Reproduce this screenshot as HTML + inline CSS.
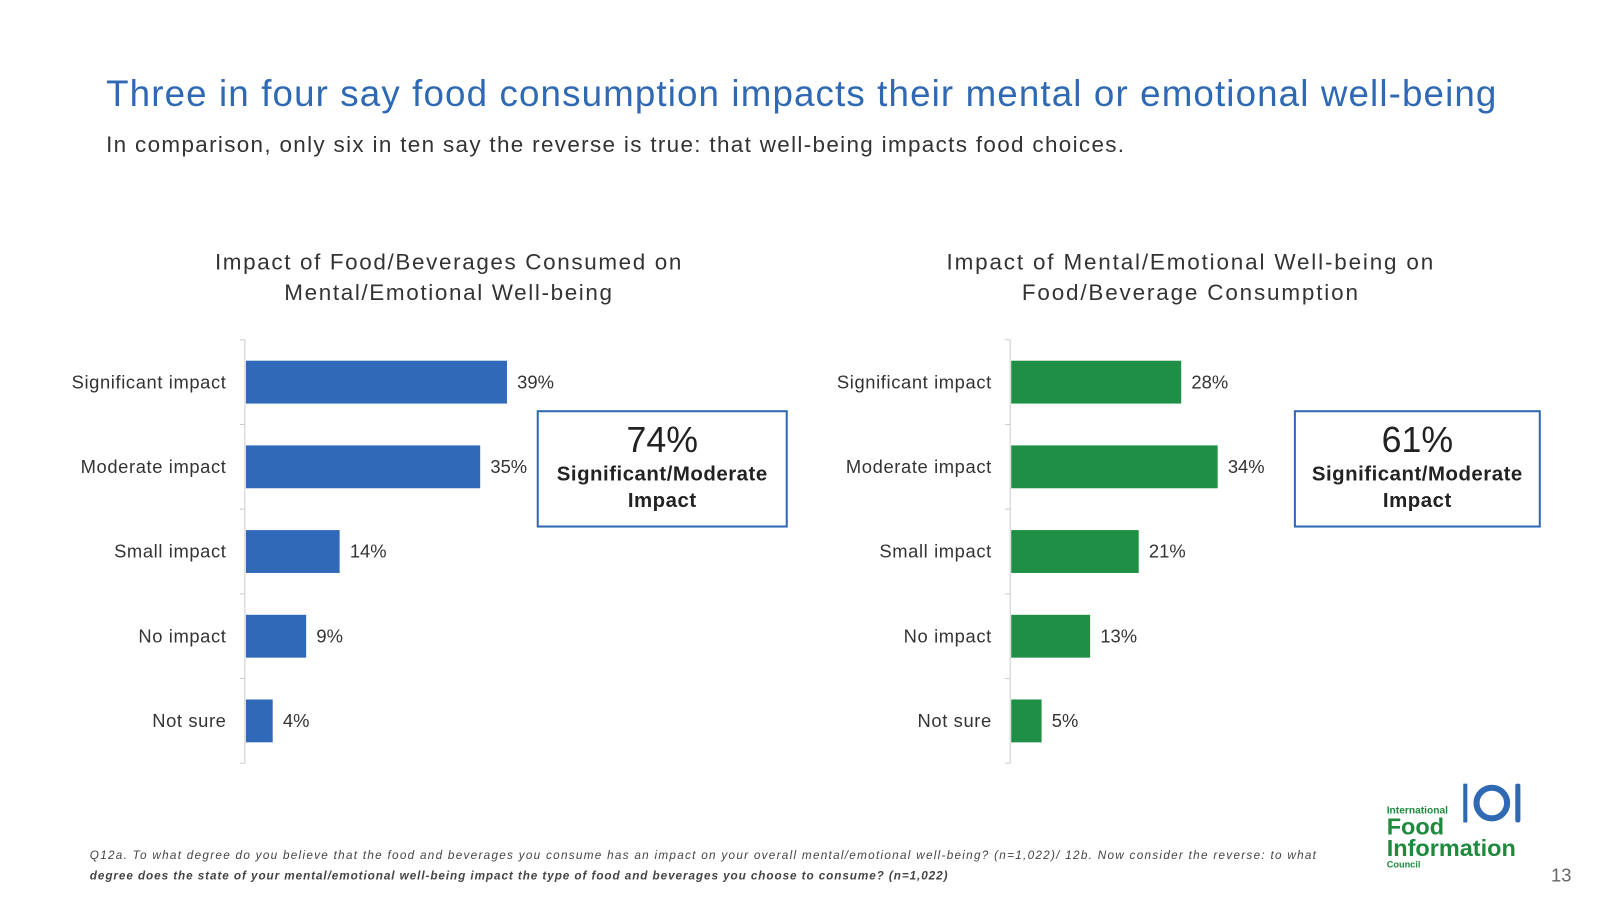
<!DOCTYPE html>
<html><head><meta charset="utf-8"><style>
body{margin:0;width:1600px;height:900px;background:#fff;overflow:hidden;font-family:"Liberation Sans",sans-serif;position:relative}
#wrap{position:absolute;left:0;top:0;width:1568px;height:882px;transform:scale(1.0204);transform-origin:0 0}
.t{position:absolute}
</style></head><body>
<div id="wrap">
<div class="t" style="left:104px;top:71px;font-size:36px;color:#2f69b3;letter-spacing:1.1px;white-space:nowrap">Three in four say food consumption impacts their mental or emotional well-being</div>
<div class="t" style="left:104px;top:129px;font-size:22px;color:#333;letter-spacing:1.3px;white-space:nowrap">In comparison, only six in ten say the reverse is true: that well-being impacts food choices.</div>
<svg width="1568" height="882" style="position:absolute;left:0;top:0">
<g id="c1"></g><g id="c2"></g>
</svg>
<div class="t" style="left:190px;top:242px;width:500px;text-align:center;font-size:22px;line-height:30px;color:#333;letter-spacing:1.6px">Impact of Food/Beverages Consumed on<br>Mental/Emotional Well-being</div>
<div class="t" style="left:917px;top:242px;width:500px;text-align:center;font-size:22px;line-height:30px;color:#333;letter-spacing:1.8px">Impact of Mental/Emotional Well-being on<br>Food/Beverage Consumption</div>
<div class="t" style="left:526px;top:402px;width:242px;height:111px;border:2px solid #2f69b3;text-align:center;color:#222">
<div style="font-size:35px;margin-top:8px">74%</div><div style="font-size:20px;font-weight:bold;line-height:26px;letter-spacing:0.5px">Significant/Moderate<br>Impact</div></div>
<div class="t" style="left:1268px;top:402px;width:238px;height:111px;border:2px solid #2f69b3;text-align:center;color:#222">
<div style="font-size:35px;margin-top:8px">61%</div><div style="font-size:20px;font-weight:bold;line-height:26px;letter-spacing:0.5px">Significant/Moderate<br>Impact</div></div>
<div class="t" style="left:88px;top:829px;width:1300px;font-size:11.5px;font-style:italic;color:#444;line-height:20px;letter-spacing:1.25px;white-space:nowrap">Q12a. To what degree do you believe that the food and beverages you consume has an impact on your overall mental/emotional well-being? (n=1,022)/ 12b. Now consider the reverse: to what<br><b style="letter-spacing:0.9px">degree does the state of your mental/emotional well-being impact the type of food and beverages you choose to consume? (n=1,022)</b></div>
<div class="t" style="left:1359px;top:789px;color:#1f8a3e;font-weight:bold">
<div style="font-size:10px">International</div><div style="font-size:23px;line-height:21px">Food</div><div style="font-size:23px;line-height:21px">Information</div><div style="font-size:9px">Council</div></div>
<svg class="t" style="left:1430px;top:766px" width="66" height="46"><circle cx="32" cy="21" r="15" fill="none" stroke="#2f69b3" stroke-width="6"/><rect x="4" y="2" width="4" height="38" fill="#2f69b3"/><rect x="55" y="2" width="5" height="38" rx="2" fill="#2f69b3"/></svg>
<div class="t" style="left:1520px;top:848px;font-size:18px;color:#666">13</div>
</div>
<script>
const cats=["Significant impact","Moderate impact","Small impact","No impact","Not sure"];
const leftVals=[39,35,14,9,4];
const rightVals=[28,34,21,13,5];
const NS="http://www.w3.org/2000/svg";
function mk(g,tag,a){const e=document.createElementNS(NS,tag);for(const k in a)e.setAttribute(k,a[k]);g.appendChild(e);return e;}
function chart(id,x0,scale,vals,color,side){
 const g=document.getElementById(id);
 const y0=333,step=83;
 const ax=mk(g,"line",{x1:x0,y1:y0,x2:x0,y2:y0+step*5,stroke:"#ccc"});
 
 for(let i=0;i<=5;i++){mk(g,"line",{x1:x0-5,y1:y0+i*step,x2:x0,y2:y0+i*step,stroke:"#ccc"});}
 cats.forEach((c,i)=>{
  const cy=y0+step*i+step/2;
  const r=mk(g,"rect",{x:x0+1,y:cy-21,width:vals[i]*scale,height:42,fill:color});
  
  
  const l=mk(g,"text",{x:x0-18,y:cy+6,"text-anchor":"end","font-size":18,"letter-spacing":0.6,fill:"#333"});l.textContent=c;
  
  
  const v=mk(g,"text",{x:x0+1+vals[i]*scale+10,y:cy+6,"font-size":18,fill:"#333"});v.textContent=vals[i]+"%";
  
  
 });
}
chart("c1",240,6.56,leftVals,"#2f69b8","left");
chart("c2",990,5.95,rightVals,"#1e8f45","right");
</script>
</body></html>
